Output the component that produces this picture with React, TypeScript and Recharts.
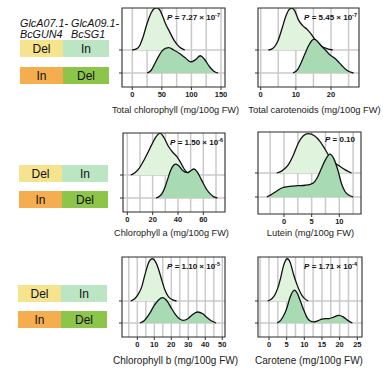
import React from "react";
import { ComposedChart, Area, XAxis, YAxis, CartesianGrid, ReferenceArea, Label } from "recharts";

const FONT = '"Liberation Sans", Arial, Helvetica, sans-serif';

type Pt = [number, number];

// ridge densities: [trait value, ridge height in row units]
// upper ridge = GlcA07.1 Del / GlcA09.1 In, lower ridge = In / Del
const totalChlDelIn: Pt[] = [[0, 0], [8, 0.06], [13, 0.22], [18, 0.55], [25, 1.15], [32, 1.62], [37, 1.8], [41, 1.83], [46, 1.76], [52, 1.42], [57, 1.1], [63, 0.8], [70, 0.45], [77, 0.2], [83, 0.07], [89, 0]];
const totalChlInDel: Pt[] = [[25, 0], [32, 0.12], [38, 0.4], [44, 0.7], [50, 0.95], [56, 1.07], [62, 1.1], [70, 1.0], [80, 0.85], [90, 0.65], [99, 0.48], [107, 0.58], [115, 0.75], [122, 0.6], [131, 0.26], [138, 0.08], [145, 0]];

const totalCarDelIn: Pt[] = [[2.2, 0], [3.5, 0.08], [5, 0.44], [6, 0.9], [7, 1.4], [8, 1.74], [8.8, 1.82], [9.7, 1.7], [10.7, 1.32], [12, 1.05], [13.1, 0.91], [14.2, 0.72], [15.5, 0.45], [17, 0.2], [19, 0.05], [20.5, 0]];
const totalCarInDel: Pt[] = [[9.2, 0], [10.5, 0.15], [11.6, 0.48], [12.5, 0.8], [13.5, 1.15], [14.5, 1.4], [15.2, 1.47], [16.3, 1.35], [17.4, 1.15], [18.4, 1.0], [19.6, 0.8], [20.7, 0.68], [21.9, 0.52], [23, 0.34], [24.5, 0.12], [26.4, 0]];

const chlADelIn: Pt[] = [[2.7, 0], [6, 0.1], [9.5, 0.3], [12.6, 0.59], [16, 0.95], [19.3, 1.32], [22.5, 1.65], [25.8, 1.82], [29, 1.62], [32.4, 1.25], [36, 0.98], [39, 0.81], [42, 0.55], [45, 0.25], [48, 0.07], [51, 0]];
const chlAInDel: Pt[] = [[22.6, 0], [25, 0.06], [27.5, 0.2], [29.8, 0.48], [32, 0.85], [34, 1.17], [36.5, 1.42], [38.4, 1.47], [41, 1.38], [44, 1.18], [47.3, 1.1], [50, 1.18], [52.6, 1.26], [55, 1.15], [57.5, 0.9], [60, 0.63], [62.5, 0.38], [65.3, 0.19], [68, 0.06], [71, 0]];

const luteinDelIn: Pt[] = [[-1.3, 0], [-0.3, 0.1], [0.8, 0.35], [1.7, 0.75], [2.6, 1.25], [3.5, 1.55], [4.4, 1.64], [5.5, 1.55], [6.5, 1.32], [7.4, 1.0], [8.3, 0.65], [9.2, 0.42], [10.1, 0.28], [11, 0.14], [12.2, 0]];
const luteinInDel: Pt[] = [[-3.1, 0], [-2.3, 0.1], [-1.3, 0.25], [-0.4, 0.375], [1, 0.44], [2.5, 0.47], [3.8, 0.49], [4.6, 0.52], [5.3, 0.58], [6, 0.8], [6.8, 1.21], [7.6, 1.6], [8.3, 1.79], [9, 1.6], [9.8, 1.07], [10.4, 0.55], [11, 0.24], [11.7, 0.08], [12.5, 0]];

const chlBDelIn: Pt[] = [[-3.9, 0], [-1.5, 0.1], [0.5, 0.3], [2.6, 0.64], [4, 1.05], [5.5, 1.47], [7, 1.8], [8.8, 1.92], [10.6, 1.8], [12.4, 1.47], [14.4, 0.95], [16.3, 0.49], [18.3, 0.2], [20.5, 0.06], [23.1, 0]];
const chlBInDel: Pt[] = [[1.6, 0], [4, 0.1], [7, 0.4], [10, 0.8], [12.5, 1.05], [14.9, 1.15], [17.5, 1.0], [20, 0.68], [22.5, 0.38], [25, 0.18], [27, 0.12], [29.5, 0.18], [32, 0.35], [35.5, 0.5], [38.5, 0.42], [41, 0.25], [43.5, 0.1], [46.3, 0]];

const caroteneDelIn: Pt[] = [[-0.4, 0], [0.8, 0.1], [1.8, 0.32], [2.6, 0.64], [3.3, 1.05], [3.9, 1.47], [4.5, 1.78], [5.2, 1.92], [6, 1.75], [6.9, 1.24], [7.8, 0.8], [8.8, 0.41], [9.8, 0.15], [11.1, 0]];
const caroteneInDel: Pt[] = [[2.3, 0], [3.3, 0.12], [4.2, 0.35], [5, 0.65], [6, 1.18], [7.2, 1.49], [8, 1.35], [8.8, 1.03], [9.8, 0.6], [10.7, 0.27], [11.6, 0.1], [12.6, 0.05], [13.8, 0.1], [15, 0.18], [15.9, 0.2], [17, 0.2], [18.5, 0.28], [19.7, 0.35], [21, 0.28], [22.3, 0.12], [23.6, 0]];

const totalChlTicks = [0, 50, 100, 150];
const totalChlGrid = [0, 25, 50, 75, 100, 125, 150];
const totalCarTicks = [0, 10, 20];
const totalCarGrid = [0, 5, 10, 15, 20, 25];
const chlATicks = [0, 20, 40, 60];
const chlAGrid = [0, 10, 20, 30, 40, 50, 60, 70];
const luteinTicks = [0, 5, 10];
const luteinGrid = [-2.5, 0, 2.5, 5, 7.5, 10, 12.5];
const chlBTicks = [0, 10, 20, 30, 40, 50];
const chlBGrid = [-5, 0, 5, 10, 15, 20, 25, 30, 35, 40, 45, 50];
const caroteneTicks = [0, 5, 10, 15, 20, 25];
const caroteneGrid = [-2.5, 0, 2.5, 5, 7.5, 10, 12.5, 15, 17.5, 20, 22.5, 25];

const genoHeader = ["GlcA07.1-", "GlcA09.1-"];
const genoHeader2 = ["BcGUN4", "BcSG1"];
const upperGeno = ["Del", "In"];
const lowerGeno = ["In", "Del"];

const UPPER_FILL = "#e0f3dc";
const LOWER_FILL = "#a8dbb3";
const UPPER_CELLS = ["#f6e38e", "#bce5c3"];
const LOWER_CELLS = ["#f5ae4f", "#8dc54b"];

interface Box { x: number; y: number; w: number; h: number }

interface PanelProps {
  box: Box;
  base: [number, number];
  xDomain: [number, number];
  ticks: number[];
  grid: number[];
  upper: Pt[];
  lower: Pt[];
  title: string;
  titleSize: number;
  titleDx: number;
  titleGap: number;
  pMant: string;
  pExp?: string;
  pTop: number;
  pRight: number;
}

const YW = 6;
const XH = 14;
const ML = 14;
const MR = 26;
const MT = 4;
const MB = 22;

function RidgePanel(p: PanelProps) {
  const unit = p.base[1] - p.base[0];
  const yMax = (p.base[1] - p.box.y) / unit;
  const yMin = -(p.box.y + p.box.h - p.base[1]) / unit;
  const upperData = p.upper.map(([x, d]) => ({ x, y: 1 + d }));
  const lowerData = p.lower.map(([x, d]) => ({ x, y: d }));
  const titleX = ML + YW + p.box.w / 2 + p.titleDx;
  const titleY = MT + p.box.h + p.titleGap;

  return (
    <div style={{ position: "absolute", left: p.box.x - YW - ML, top: p.box.y - MT }}>
      <ComposedChart
        width={ML + YW + p.box.w + MR}
        height={MT + p.box.h + XH + MB}
        margin={{ top: MT, right: MR, bottom: MB, left: ML }}
      >
        <CartesianGrid verticalValues={p.grid} horizontalValues={[0, 1]} stroke="#cacaca" strokeWidth={1.5} />
        <XAxis
          type="number"
          dataKey="x"
          domain={p.xDomain}
          ticks={p.ticks}
          interval={0}
          allowDataOverflow
          axisLine={false}
          tickLine={{ stroke: "#333" }}
          tickSize={3}
          tickMargin={2}
          height={XH}
          tick={{ fontSize: 7.5, fontWeight: "bold", fill: "#1a1a1a", fontFamily: FONT }}
        >
          <Label
            content={() => (
              <text x={titleX} y={titleY} textAnchor="middle" fontFamily={FONT} fontSize={p.titleSize} fill="#1a1a1a">
                {p.title}
              </text>
            )}
          />
        </XAxis>
        <YAxis
          type="number"
          domain={[yMin, yMax]}
          ticks={[0, 1]}
          allowDataOverflow
          axisLine={false}
          tickLine={{ stroke: "#333" }}
          tickSize={3}
          tickMargin={0}
          width={YW}
          tickFormatter={() => ""}
        />
        <Area
          data={upperData}
          dataKey="y"
          type="monotone"
          baseValue={1}
          fill={UPPER_FILL}
          fillOpacity={1}
          stroke="#111"
          strokeWidth={1.3}
          dot={false}
          activeDot={false}
          isAnimationActive={false}
        />
        <Area
          data={lowerData}
          dataKey="y"
          type="monotone"
          baseValue={0}
          fill={LOWER_FILL}
          fillOpacity={1}
          stroke="#111"
          strokeWidth={1.3}
          dot={false}
          activeDot={false}
          isAnimationActive={false}
        />
        <ReferenceArea
          x1={p.xDomain[0]}
          x2={p.xDomain[1]}
          y1={yMin}
          y2={yMax}
          fill="none"
          stroke="#2a2a2a"
          strokeWidth={1.1}
          ifOverflow="visible"
        >
          <Label
            content={() => (
              <text
                x={ML + YW + p.box.w - p.pRight}
                y={MT + p.pTop}
                textAnchor="end"
                fontFamily={FONT}
                fontWeight="bold"
                fontSize={8}
                fill="#111"
              >
                <tspan fontStyle="italic">P</tspan>
                <tspan>{` = ${p.pMant}${p.pExp ? " \u00d7 10" : ""}`}</tspan>
                {p.pExp && (
                  <tspan dy={-3.5} fontSize={5.5}>
                    {p.pExp}
                  </tspan>
                )}
              </text>
            )}
          />
        </ReferenceArea>
      </ComposedChart>
    </div>
  );
}

function GenoBlock({ x, rows, h }: { x: [number, number, number]; rows: [number, number]; h: number }) {
  const cell = (left: number, width: number, top: number, bg: string, text: string) => (
    <div
      key={`${left}-${top}`}
      style={{
        position: "absolute",
        left,
        top,
        width,
        height: h,
        background: bg,
        fontFamily: FONT,
        fontSize: 12,
        lineHeight: `${h + 2}px`,
        textAlign: "center",
        color: "#111",
      }}
    >
      {text}
    </div>
  );
  return (
    <>
      {cell(x[0], x[1] - x[0], rows[0], UPPER_CELLS[0], upperGeno[0])}
      {cell(x[1], x[2] - x[1], rows[0], UPPER_CELLS[1], upperGeno[1])}
      {cell(x[0], x[1] - x[0], rows[1], LOWER_CELLS[0], lowerGeno[0])}
      {cell(x[1], x[2] - x[1], rows[1], LOWER_CELLS[1], lowerGeno[1])}
    </>
  );
}

export default function App() {
  const headerStyle: React.CSSProperties = {
    position: "absolute",
    fontFamily: FONT,
    fontStyle: "italic",
    fontSize: 10.8,
    lineHeight: "11px",
    color: "#111",
    whiteSpace: "nowrap",
  };
  return (
    <div style={{ position: "absolute", left: 0, top: 0, width: 383, height: 377, background: "#fff", overflow: "hidden" }}>
      <div style={{ ...headerStyle, left: 20, top: 18 }}>{genoHeader[0]}</div>
      <div style={{ ...headerStyle, left: 71, top: 18 }}>{genoHeader[1]}</div>
      <div style={{ ...headerStyle, left: 20, top: 29 }}>{genoHeader2[0]}</div>
      <div style={{ ...headerStyle, left: 71, top: 29 }}>{genoHeader2[1]}</div>
      <GenoBlock x={[20, 63, 109]} rows={[40, 67]} h={17} />
      <GenoBlock x={[19, 62, 108]} rows={[165, 191]} h={17} />
      <GenoBlock x={[18, 61, 107]} rows={[285, 311]} h={17} />

      <RidgePanel
        box={{ x: 122, y: 8, w: 103, h: 79 }}
        base={[50, 73]}
        xDomain={[-17.4, 156.8]}
        ticks={totalChlTicks}
        grid={totalChlGrid}
        upper={totalChlDelIn}
        lower={totalChlInDel}
        title="Total chlorophyll (mg/100g FW)"
        titleSize={9.2}
        titleDx={2}
        titleGap={26}
        pMant="7.27"
        pExp="-7"
        pTop={12}
        pRight={5}
      />
      <RidgePanel
        box={{ x: 258, y: 8, w: 101, h: 79 }}
        base={[50, 73]}
        xDomain={[-0.77, 27.97]}
        ticks={totalCarTicks}
        grid={totalCarGrid}
        upper={totalCarDelIn}
        lower={totalCarInDel}
        title="Total carotenoids (mg/100g FW)"
        titleSize={9.3}
        titleDx={6}
        titleGap={26}
        pMant="5.45"
        pExp="-7"
        pTop={12}
        pRight={2}
      />
      <RidgePanel
        box={{ x: 123, y: 133, w: 102, h: 79 }}
        base={[175, 198]}
        xDomain={[-3.4, 77.1]}
        ticks={chlATicks}
        grid={chlAGrid}
        upper={chlADelIn}
        lower={chlAInDel}
        title="Chlorophyll a (mg/100g FW)"
        titleSize={9.2}
        titleDx={-2.5}
        titleGap={23.5}
        pMant="1.50"
        pExp="-6"
        pTop={12}
        pRight={2}
      />
      <RidgePanel
        box={{ x: 258, y: 132, w: 103, h: 82 }}
        base={[173, 197]}
        xDomain={[-4.7, 13.92]}
        ticks={luteinTicks}
        grid={luteinGrid}
        upper={luteinDelIn}
        lower={luteinInDel}
        title="Lutein (mg/100g FW)"
        titleSize={9.3}
        titleDx={1}
        titleGap={21.5}
        pMant="0.10"
        pTop={10}
        pRight={6}
      />
      <RidgePanel
        box={{ x: 122, y: 257, w: 103, h: 80 }}
        base={[301, 323]}
        xDomain={[-9.0, 51.6]}
        ticks={chlBTicks}
        grid={chlBGrid}
        upper={chlBDelIn}
        lower={chlBInDel}
        title="Chlorophyll b (mg/100g FW)"
        titleSize={10}
        titleDx={2}
        titleGap={26.5}
        pMant="1.10"
        pExp="-5"
        pTop={12}
        pRight={5}
      />
      <RidgePanel
        box={{ x: 258, y: 257, w: 104, h: 80 }}
        base={[301, 323]}
        xDomain={[-3.11, 26.33]}
        ticks={caroteneTicks}
        grid={caroteneGrid}
        upper={caroteneDelIn}
        lower={caroteneInDel}
        title="Carotene (mg/100g FW)"
        titleSize={10}
        titleDx={-1}
        titleGap={26.5}
        pMant="1.71"
        pExp="-4"
        pTop={12}
        pRight={5}
      />
    </div>
  );
}
